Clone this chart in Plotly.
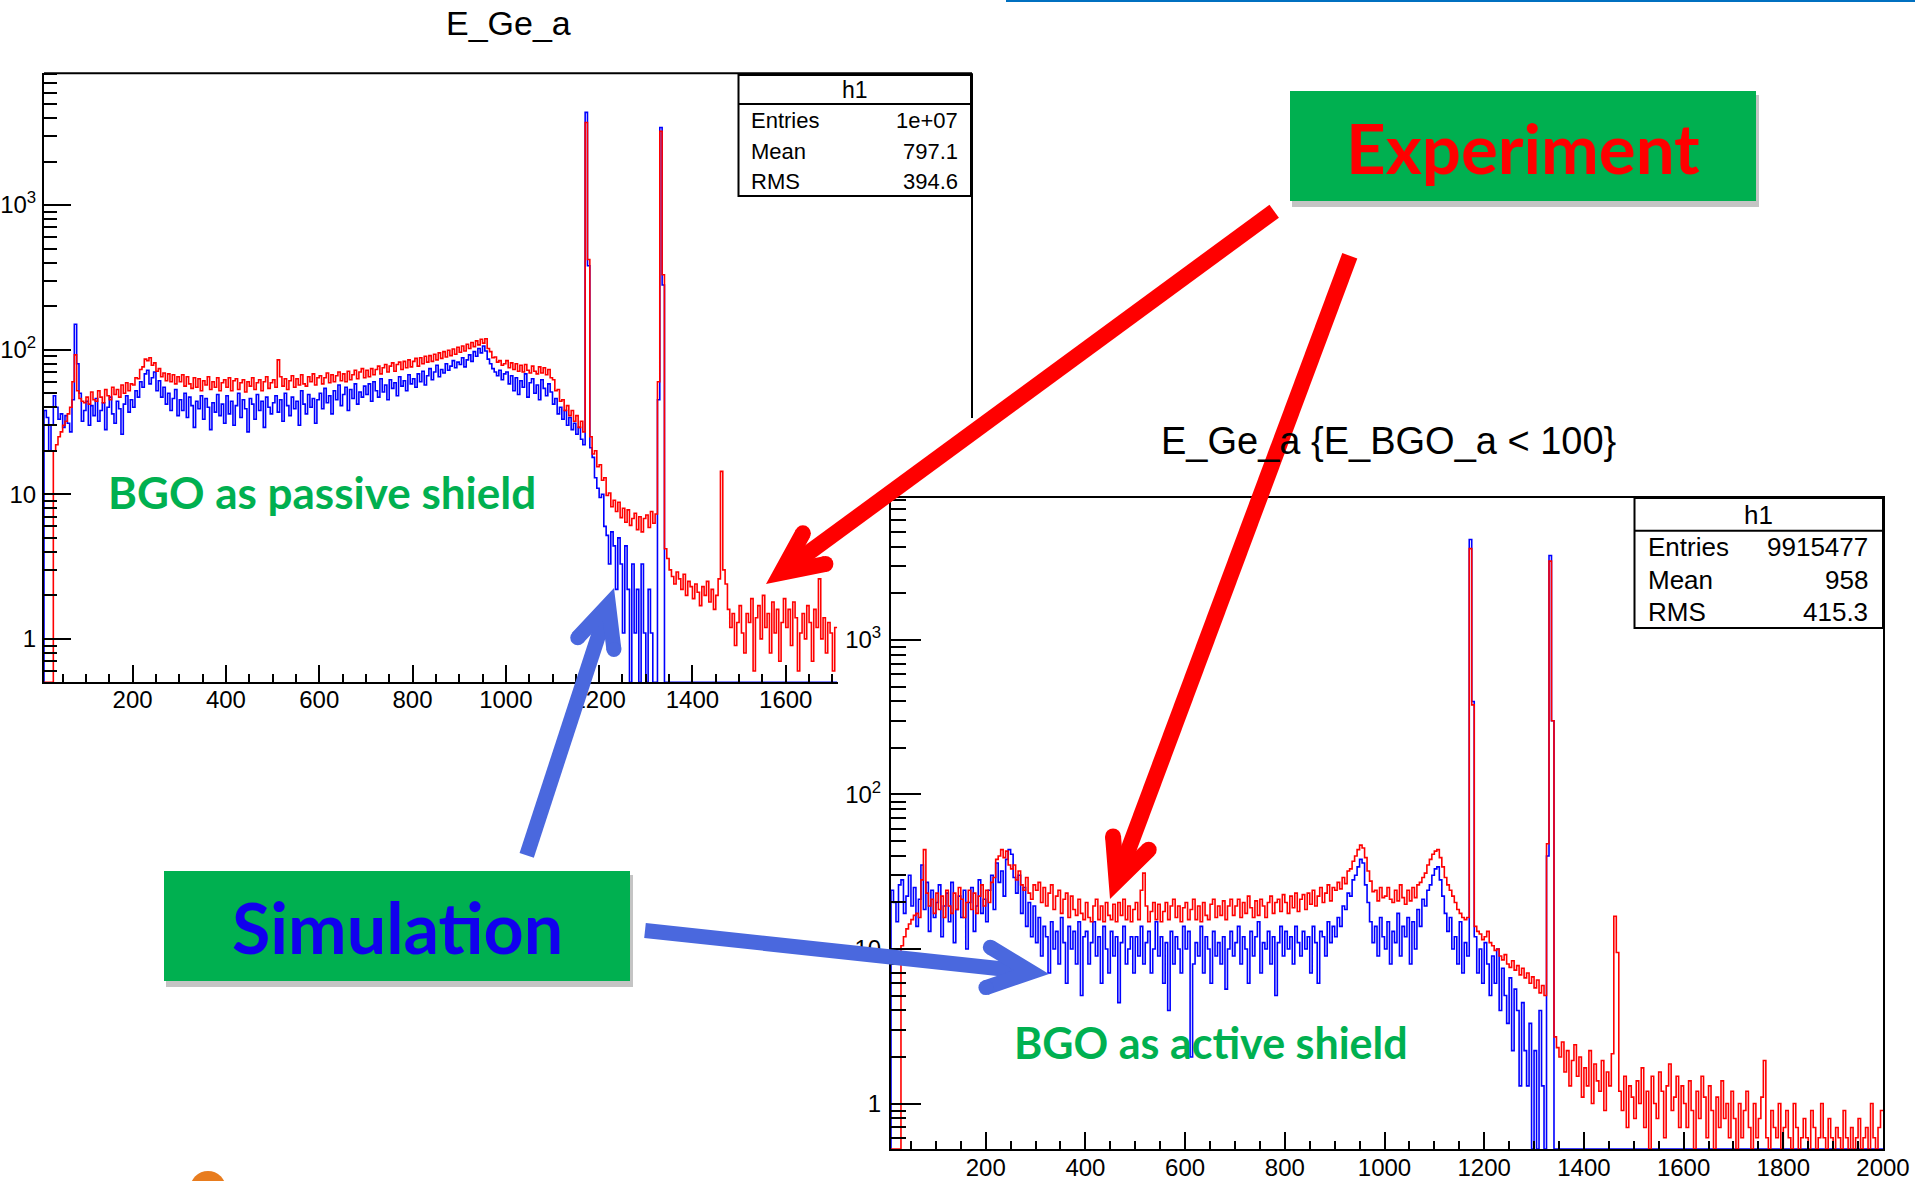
import math
import plotly.graph_objects as go

W, H = 1915, 1181
ROOT_FONT = "Liberation Sans"
SLIDE_FONT = "Lato"
BIN_WIDTH = 5  # keV

# ---------------- data (counts per 5 keV bin; one row = 100 keV) ----------------
LEFT_RED = [
    0, 0, 0, 0, 0, 0, 20, 22, 25, 27, 30, 32, 36, 40, 60, 92, 52, 46, 44, 43,
    47, 42, 51, 45, 44, 52, 47, 43, 53, 48, 45, 55, 49, 53, 47, 57, 50, 59, 52, 58,
    57, 64, 63, 73, 76, 86, 84, 88, 78, 81, 71, 74, 65, 69, 61, 68, 60, 67, 58, 65,
    60, 67, 56, 65, 58, 54, 64, 55, 63, 52, 61, 57, 65, 53, 60, 55, 64, 52, 59, 62,
    55, 64, 52, 61, 63, 53, 59, 62, 51, 60, 56, 64, 53, 59, 62, 52, 60, 65, 54, 59,
    62, 55, 85, 65, 56, 63, 53, 61, 66, 55, 63, 57, 67, 58, 56, 65, 60, 68, 57, 64,
    66, 58, 64, 69, 59, 67, 60, 66, 70, 61, 68, 60, 71, 62, 67, 72, 63, 70, 74, 64,
    72, 65, 74, 67, 73, 77, 68, 75, 79, 70, 77, 81, 71, 79, 82, 73, 83, 75, 85, 76,
    83, 87, 77, 88, 80, 90, 82, 91, 83, 93, 85, 95, 87, 97, 89, 99, 91, 101, 93, 104,
    96, 106, 98, 109, 102, 112, 105, 115, 108, 118, 111, 119, 102, 97, 88, 89, 82, 84, 78, 80,
    84, 75, 81, 73, 80, 71, 78, 70, 79, 72, 69, 77, 71, 68, 76, 69, 75, 67, 73, 64,
    62, 52, 53, 44, 45, 38, 41, 35, 38, 32, 35, 29, 32, 27, 3720, 420, 25, 19, 20, 15.5,
    16, 12.5, 13, 9.8, 10.2, 8.2, 9.1, 7.6, 8.8, 6.9, 8.0, 6.4, 7.8, 6.1, 6.8, 7.4, 5.7, 7.0, 5.5, 6.8,
    7.2, 5.9, 7.6, 6.3, 7.3, 60, 3240, 330, 4.2, 3.6, 3.0, 2.7, 2.4, 2.9, 2.6, 2.2, 2.8, 2.0, 2.5, 2.3,
    1.9, 2.4, 2.1, 1.7, 2.3, 2.0, 2.5, 1.8, 2.2, 1.6, 2.0, 2.6, 14.4, 3.0, 2.4, 1.6, 1.2, 1.5, 0.9, 1.3,
    1.7, 1.1, 0.8, 1.5, 1.3, 1.9, 0.6, 1.4, 1.7, 1.0, 2.0, 1.2, 1.5, 0.8, 1.8, 1.1, 1.6, 0.7, 1.3, 1.9,
    1.2, 1.6, 0.9, 1.8, 1.4, 0.6, 1.1, 1.5, 1.0, 1.7, 1.3, 0.7, 1.6, 1.2, 2.6, 1.0, 1.4, 0.8, 1.3, 1.1,
    0.6, 1.2,
]
LEFT_BLUE = [
    0, 0, 38, 34, 20, 30, 48, 40, 33, 36, 29, 35, 31, 27, 45, 150, 80, 50, 32, 38,
    44, 30, 41, 35, 46, 32, 38, 43, 28, 40, 47, 36, 31, 44, 39, 26, 42, 48, 37, 45,
    40, 52, 47, 60, 55, 68, 72, 58, 64, 70, 52, 61, 47, 55, 42, 50, 38, 46, 53, 35,
    45, 38, 50, 34, 47, 41, 29, 44, 39, 48, 33, 46, 40, 28, 43, 37, 49, 35, 42, 31,
    48, 36, 44, 30, 41, 50, 34, 45, 39, 27, 46, 42, 33, 49, 38, 44, 29, 47, 40, 36,
    43, 48, 37, 45, 32, 50, 41, 35, 47, 39, 44, 30, 52, 42, 36, 49, 40, 46, 31, 45,
    50, 39, 54, 43, 48, 36, 52, 45, 57, 41, 49, 55, 38, 53, 46, 58, 42, 51, 47, 56,
    49, 58, 44, 60, 52, 47, 63, 51, 57, 45, 62, 54, 59, 48, 65, 56, 61, 52, 67, 58,
    63, 55, 68, 60, 71, 57, 66, 74, 62, 70, 78, 65, 73, 69, 80, 72, 77, 84, 75, 82,
    79, 88, 76, 85, 92, 83, 97, 90, 102, 95, 106, 98, 86, 80, 74, 70, 66, 72, 62, 68,
    70, 58, 66, 52, 64, 49, 61, 55, 68, 47, 59, 63, 50, 57, 45, 62, 54, 48, 58, 51,
    42, 46, 36, 40, 33, 38, 30, 34, 28, 31, 26, 29, 24, 22, 4370, 380, 21, 18, 13, 11,
    9.5, 10, 6, 5.2, 3.3, 5.5, 4.4, 2.2, 5, 3.3, 1.1, 4.4, 2.2, 0, 3.3, 1.1, 2.2, 0, 3.3, 1.1,
    0, 2.2, 1.1, 0, 0, 45, 3440, 280, 0, 0, 0, 0, 0, 0, 0, 0, 0, 0, 0, 0,
    0, 0, 0, 0, 0, 0, 0, 0, 0, 0, 0, 0, 0, 0, 0, 0, 0, 0, 0, 0,
    0, 0, 0, 0, 0, 0, 0, 0, 0, 0, 0, 0, 0, 0, 0, 0, 0, 0, 0, 0,
    0, 0, 0, 0, 0, 0, 0, 0, 0, 0, 0, 0, 0, 0, 0, 0, 0, 0, 0, 0,
    0, 0,
]
RIGHT_RED = [
    0, 0, 0, 0, 0, 0, 10.5, 12, 13.5, 14.5, 15.5, 16.5, 17, 16, 28, 44, 23, 19, 21, 17,
    23, 18, 22, 16, 24, 19, 17, 23, 18, 25, 21, 16, 20, 24, 18, 23, 17, 22, 26, 19,
    24, 20, 27, 29, 38, 40, 44, 39, 43, 35, 33, 35, 28, 32, 26, 24, 29, 23, 21, 26,
    24, 27, 20, 25, 19, 23, 26, 18, 22, 24, 17, 21, 23, 16, 22, 18, 16.5, 21, 17, 15.5,
    20, 16, 15, 19, 21, 15.5, 19, 15, 20, 16.5, 15.5, 19.5, 15, 20, 16.5, 21, 15.5, 19, 15, 18,
    20, 15.5, 24, 31, 19, 15, 17.5, 20, 15.5, 19.5, 15, 17.5, 20, 15.5, 19, 21, 16, 19, 15, 18.5,
    20, 15.5, 18, 21, 15.5, 19, 15, 20, 16.5, 15.5, 19.5, 21, 16, 19, 16.5, 20.5, 15.5, 19, 21, 16.5,
    19, 21, 16, 20, 17, 22, 18.5, 16, 20.5, 16.5, 21, 19, 16, 20, 22, 17, 20, 21, 17.5, 22.5,
    20, 17, 22, 18.5, 23, 17.5, 21, 22.5, 18, 23, 19.5, 24, 19, 22, 25, 20, 23, 26, 20.5, 25,
    24, 27, 24.5, 29, 26.5, 32, 33, 37, 40, 44, 47, 45, 39, 32, 27.5, 23.5, 24, 20.5, 25, 21.5,
    22, 25, 21, 20, 24, 20.5, 26, 21.5, 19.5, 24, 20.5, 25, 21.5, 26, 27, 29, 31, 35, 38, 41,
    43, 44, 39, 34, 29, 26, 24, 22, 20, 18, 17, 16, 15.5, 16, 3900, 380, 14, 13, 12.5, 11.5,
    12, 13, 11, 10.5, 9.8, 10, 9, 8.5, 9.2, 8, 7.6, 8.4, 7.3, 7.8, 6.8, 7.5, 6.5, 7, 6, 6.6,
    5.6, 6.3, 5.2, 5.8, 5.0, 48, 3240, 300, 2.7, 2.3, 2.0, 2.5, 1.6, 2.2, 1.3, 1.9, 2.4, 1.5, 2.0, 1.1,
    1.7, 1.3, 2.2, 1.0, 1.8, 1.4, 1.2, 1.9, 0.9, 1.6, 1.3, 2.1, 16.3, 9.5, 1.2, 0.9, 1.5, 0.7, 1.3, 1.1,
    0.8, 1.4, 1.0, 1.7, 0.7, 1.2, 0, 1.5, 1.0, 0.8, 1.6, 1.2, 0.6, 1.3, 1.8, 0.9, 1.1, 1.5, 0.7, 1.3,
    1.0, 0.7, 1.4, 0.9, 0, 1.2, 0.8, 1.5, 1.1, 0.6, 1.3, 0.9, 0, 1.1, 0.7, 1.4, 0.8, 1.0, 0.6, 1.2,
    0.8, 0, 1.0, 0.6, 0.9, 1.2, 0.7, 0, 1.0, 0.6, 0.8, 1.1, 1.9, 0.6, 0, 0.9, 0.7, 0.6, 1.0, 0,
    0.7, 0.9, 0.6, 0, 1.0, 0.7, 0, 0.6, 0.8, 0.6, 0, 0.9, 0.7, 0, 0.6, 1.0, 0.6, 0, 0.8, 0.6,
    0, 0.7, 0.6, 0, 0.9, 0.6, 0, 0.7, 0, 0.6, 0.8, 0, 0.6, 0.7, 0, 1.0, 0.6, 0, 0.7, 0.9,
]
RIGHT_BLUE = [
    0, 0, 24, 20, 15, 26, 28, 17, 22, 30, 19, 25, 14, 21, 35, 18, 27, 13, 24, 16,
    20, 26, 12, 19, 23, 15, 27, 11, 18, 22, 16, 24, 10, 20, 25, 13, 19, 28, 17, 21,
    15, 24, 30, 18, 36, 27, 32, 22, 38, 44, 41, 29, 23, 30, 17, 25, 14, 20, 12, 19,
    11, 16, 9, 14, 12, 7, 15, 10, 13, 8, 16, 11, 6, 14, 10, 13, 8, 15, 5, 12,
    13, 8, 11, 15, 9, 12, 6, 14, 10, 7, 13, 9, 12, 4.5, 11, 14, 8, 10, 12, 7,
    12, 9, 14, 8, 11, 13, 7, 10, 15, 9, 12, 6, 11, 4, 13, 8, 12, 10, 7, 14,
    10, 13, 2, 8, 11, 9, 14, 7, 12, 10, 6, 13, 9, 11, 8, 12, 5.5, 10, 13, 9,
    11, 14, 8, 12, 10, 6, 13, 9, 12, 15, 7, 11, 10, 13, 8, 12, 5, 11, 14, 9,
    13, 10, 12, 8, 14, 11, 9, 13, 10, 12, 7, 14, 11, 6, 13, 12, 9, 15, 11, 14,
    12, 16, 14, 19, 18, 23, 22, 28, 30, 34, 38, 36, 26, 20, 15, 11, 14, 9, 16, 12,
    10, 15, 8, 13, 11, 17, 9, 14, 12, 16, 8, 15, 10, 18, 14, 21, 19, 24, 26, 30,
    33, 34, 28, 22, 17, 13, 16, 10, 12, 8, 15, 7, 11, 9, 4470, 400, 12, 7, 10, 6,
    11, 8, 5, 9, 6, 10, 4, 7.5, 5, 3.3, 6.5, 2.2, 5.5, 4, 1.3, 4.5, 2.2, 1.3, 3.3, 0,
    2.2, 0, 4, 1.3, 0, 40, 3520, 300, 0, 0, 0, 0, 0, 0, 0, 0, 0, 0, 0, 0,
    0, 0, 0, 0, 0, 0, 0, 0, 0, 0, 0, 0, 0, 0, 0, 0, 0, 0, 0, 0,
    0, 0, 0, 0, 0, 0, 0, 0, 0, 0, 0, 0, 0, 0, 0, 0, 0, 0, 0, 0,
    0, 0, 0, 0, 0, 0, 0, 0, 0, 0, 0, 0, 0, 0, 0, 0, 0, 0, 0, 0,
    0, 0, 0, 0, 0, 0, 0, 0, 0, 0, 0, 0, 0, 0, 0, 0, 0, 0, 0, 0,
    0, 0, 0, 0, 0, 0, 0, 0, 0, 0, 0, 0, 0, 0, 0, 0, 0, 0, 0, 0,
    0, 0, 0, 0, 0, 0, 0, 0, 0, 0, 0, 0, 0, 0, 0, 0, 0, 0, 0, 0,
]

LEFT_TITLE = "E_Ge_a"
RIGHT_TITLE = "E_Ge_a {E_BGO_a < 100}"
LEFT_STATS = [("Entries", "1e+07"), ("Mean", "797.1"), ("RMS", "394.6")]
RIGHT_STATS = [("Entries", "9915477"), ("Mean", "958"), ("RMS", "415.3")]
STATS_NAME = "h1"
X_TICKS = [200, 400, 600, 800, 1000, 1200, 1400, 1600, 1800, 2000]
Y_TICKS = [1, 10, 100, 1000]
Y_TICKTEXT = ["1", "10", "10<sup>2</sup>", "10<sup>3</sup>"]
LABEL_EXPERIMENT = "Experiment"
LABEL_SIMULATION = "Simulation"
LABEL_PASSIVE = "BGO as passive shield"
LABEL_ACTIVE = "BGO as active shield"

# ---------------- geometry ----------------
LEFT_XR = [10, 1712]
RIGHT_XR = [10, 2000]
LEFT_YR = [-0.300, 3.911]
RIGHT_YR = [-0.2945, 3.919]


def X(p):
    return p / W


def Y(p):
    return 1 - p / H


def step(vals, floor):
    xs = [i * BIN_WIDTH for i in range(len(vals) + 1)]
    ys = [v if v > 0 else floor for v in vals]
    ys = ys + [ys[-1]]
    return xs, ys


fig = go.Figure()
for vals, color, xa, ya, yr in [
    (LEFT_BLUE, "#0000FF", "x", "y", LEFT_YR),
    (LEFT_RED, "#FF0000", "x", "y", LEFT_YR),
    (RIGHT_BLUE, "#0000FF", "x2", "y2", RIGHT_YR),
    (RIGHT_RED, "#FF0000", "x2", "y2", RIGHT_YR),
]:
    xs, ys = step(vals, 10 ** yr[0])
    fig.add_trace(go.Scatter(x=xs, y=ys, mode="lines", xaxis=xa, yaxis=ya,
                             line=dict(color=color, width=1.6, shape="hv"),
                             hoverinfo="skip", showlegend=False))

y_minor = [m * 10 ** k for k in range(-1, 4) for m in range(2, 10)]
tickfont = dict(family=ROOT_FONT, size=24, color="black")


def xaxis(domain, rng, maxval, standoff):
    return dict(domain=domain, range=rng, showline=True, linecolor="black", linewidth=2,
                ticks="inside", ticklen=17, tickwidth=2, tickcolor="black",
                tickmode="array", tickvals=[t for t in X_TICKS if t <= maxval],
                minor=dict(tickmode="array", ticks="inside", ticklen=8, tickwidth=2,
                           tickcolor="black",
                           tickvals=[v for v in range(50, maxval + 1, 50) if v % 200]),
                showgrid=False, zeroline=False, tickfont=tickfont, automargin=False,
                ticklabelstandoff=standoff, fixedrange=True)


def yaxis(domain, rng, tl, ml, standoff):
    return dict(domain=domain, range=rng, type="log", showline=True, linecolor="black",
                linewidth=2, ticks="inside", ticklen=tl, tickwidth=2, tickcolor="black",
                tickmode="array", tickvals=Y_TICKS, ticktext=Y_TICKTEXT,
                minor=dict(tickmode="array", ticks="inside", ticklen=ml, tickwidth=2,
                           tickcolor="black", tickvals=y_minor),
                showgrid=False, zeroline=False, tickfont=tickfont, automargin=False,
                ticklabelstandoff=standoff, fixedrange=True)


xa1 = xaxis([X(44), X(838)], LEFT_XR, 1700, -5)
xa1["anchor"] = "y"
ya1 = yaxis([Y(682.3), Y(73.3)], LEFT_YR, 27, 13, 1)
ya1["anchor"] = "x"
xa2 = xaxis([X(891), X(1883)], RIGHT_XR, 2000, -4)
xa2.update(anchor="y2", mirror=True)
ya2 = yaxis([Y(1149), Y(498)], RIGHT_YR, 30, 15, 3)
ya2.update(anchor="x2", mirror=True)

shapes = []
ann = []


def line(x0, y0, x1, y1, color="black", w=2):
    shapes.append(dict(type="line", xref="paper", yref="paper", x0=X(x0), y0=Y(y0),
                       x1=X(x1), y1=Y(y1), line=dict(color=color, width=w)))


def rect(x0, y0, x1, y1, fill, lc=None, lw=0):
    shapes.append(dict(type="rect", xref="paper", yref="paper", x0=X(x0), y0=Y(y0),
                       x1=X(x1), y1=Y(y1), fillcolor=fill,
                       line=dict(color=lc or fill, width=lw)))


def circle(cx, cy, r, fill):
    shapes.append(dict(type="circle", xref="paper", yref="paper", x0=X(cx - r), y0=Y(cy + r),
                       x1=X(cx + r), y1=Y(cy - r), fillcolor=fill, line=dict(width=0)))


def text(x, y, s, size, color="black", family=ROOT_FONT, xanchor="center"):
    ann.append(dict(x=X(x), y=Y(y), xref="paper", yref="paper", text=s, showarrow=False,
                    font=dict(family=family, size=size, color=color),
                    xanchor=xanchor, yanchor="middle"))


def arrow(tail, tip, w, color, arm=45, half=25):
    ux, uy = tail[0] - tip[0], tail[1] - tip[1]
    n = math.hypot(ux, uy)
    ux, uy = ux / n, uy / n
    a = math.radians(half)
    inset = (w / 2) / math.sin(a)
    vx, vy = tip[0] + ux * inset, tip[1] + uy * inset
    ends = []
    for s in (1, -1):
        c, sn = math.cos(s * a), math.sin(s * a)
        dx, dy = ux * c - uy * sn, ux * sn + uy * c
        ends.append((vx + dx * arm, vy + dy * arm))
    line(tail[0], tail[1], vx, vy, color, w)
    (a1x, a1y), (a2x, a2y) = ends
    shapes.append(dict(type="path", xref="paper", yref="paper",
                       path=f"M {X(a1x)},{Y(a1y)} L {X(vx)},{Y(vy)} L {X(a2x)},{Y(a2y)}",
                       line=dict(color=color, width=w)))
    for ex, ey in ends:
        circle(ex, ey, w / 2, color)


# left frame (top and visible part of right edge)
line(44, 73.3, 972, 73.3)
line(972, 73.3, 972, 418)

# stats boxes
rect(738.5, 75, 971, 196, "white", "black", 2)
line(738.5, 104, 971, 104)
text(855, 89.5, STATS_NAME, 23)
for (lab, val), yy in zip(LEFT_STATS, [120.7, 151.7, 181.7]):
    text(749, yy, lab, 22, xanchor="left")
    text(960, yy, val, 22, xanchor="right")

rect(1634.5, 498, 1883, 628, "white", "black", 2)
line(1634.5, 530.7, 1883, 530.7)
text(1758.7, 514.5, STATS_NAME, 26)
for (lab, val), yy in zip(RIGHT_STATS, [546.7, 580, 611.7]):
    text(1645.7, yy, lab, 26, xanchor="left")
    text(1870, yy, val, 26, xanchor="right")

# titles
text(508, 23, LEFT_TITLE, 34)
text(1388, 441, RIGHT_TITLE, 38)

# slide decorations
line(1006, 1, 1915, 1, "#0070C0", 2)
circle(208, 1189, 18, "#E87C1E")

GREEN = "#00B050"
for (x0, y0, x1, y1) in [(1290, 91, 1756, 201), (164, 871, 630, 981)]:
    rect(x0 + 2, y0 + 4, x1 + 3, y1 + 6, "rgba(60,60,60,0.30)")
    rect(x0, y0, x1, y1, GREEN)
text(1523, 147, "<b>%s</b>" % LABEL_EXPERIMENT, 69, "#FF0000", SLIDE_FONT)
text(397, 927, "<b>%s</b>" % LABEL_SIMULATION, 70, "#1100EE", SLIDE_FONT)
text(322, 491.5, "<b>%s</b>" % LABEL_PASSIVE, 44, GREEN, SLIDE_FONT)
text(1210.5, 1042.5, "<b>%s</b>" % LABEL_ACTIVE, 43, GREEN, SLIDE_FONT)

RED_ARROW = "#FF0000"
BLUE_ARROW = "#4A68DE"
arrow((1274.2, 211.2), (766, 584), 16, RED_ARROW)
arrow((1349.8, 255.8), (1110, 899), 16, RED_ARROW)
arrow((526.7, 855.3), (614, 588), 15, BLUE_ARROW)
arrow((645, 930.5), (1049, 974), 15, BLUE_ARROW, arm=48)

fig.update_layout(
    width=W, height=H, autosize=False, template="none",
    margin=dict(l=0, r=0, t=0, b=0, pad=0),
    paper_bgcolor="white", plot_bgcolor="white",
    font=dict(family=ROOT_FONT, color="black"),
    showlegend=False,
    xaxis=xa1, yaxis=ya1, xaxis2=xa2, yaxis2=ya2,
    shapes=shapes, annotations=ann,
)

fig.write_html("out.html")
